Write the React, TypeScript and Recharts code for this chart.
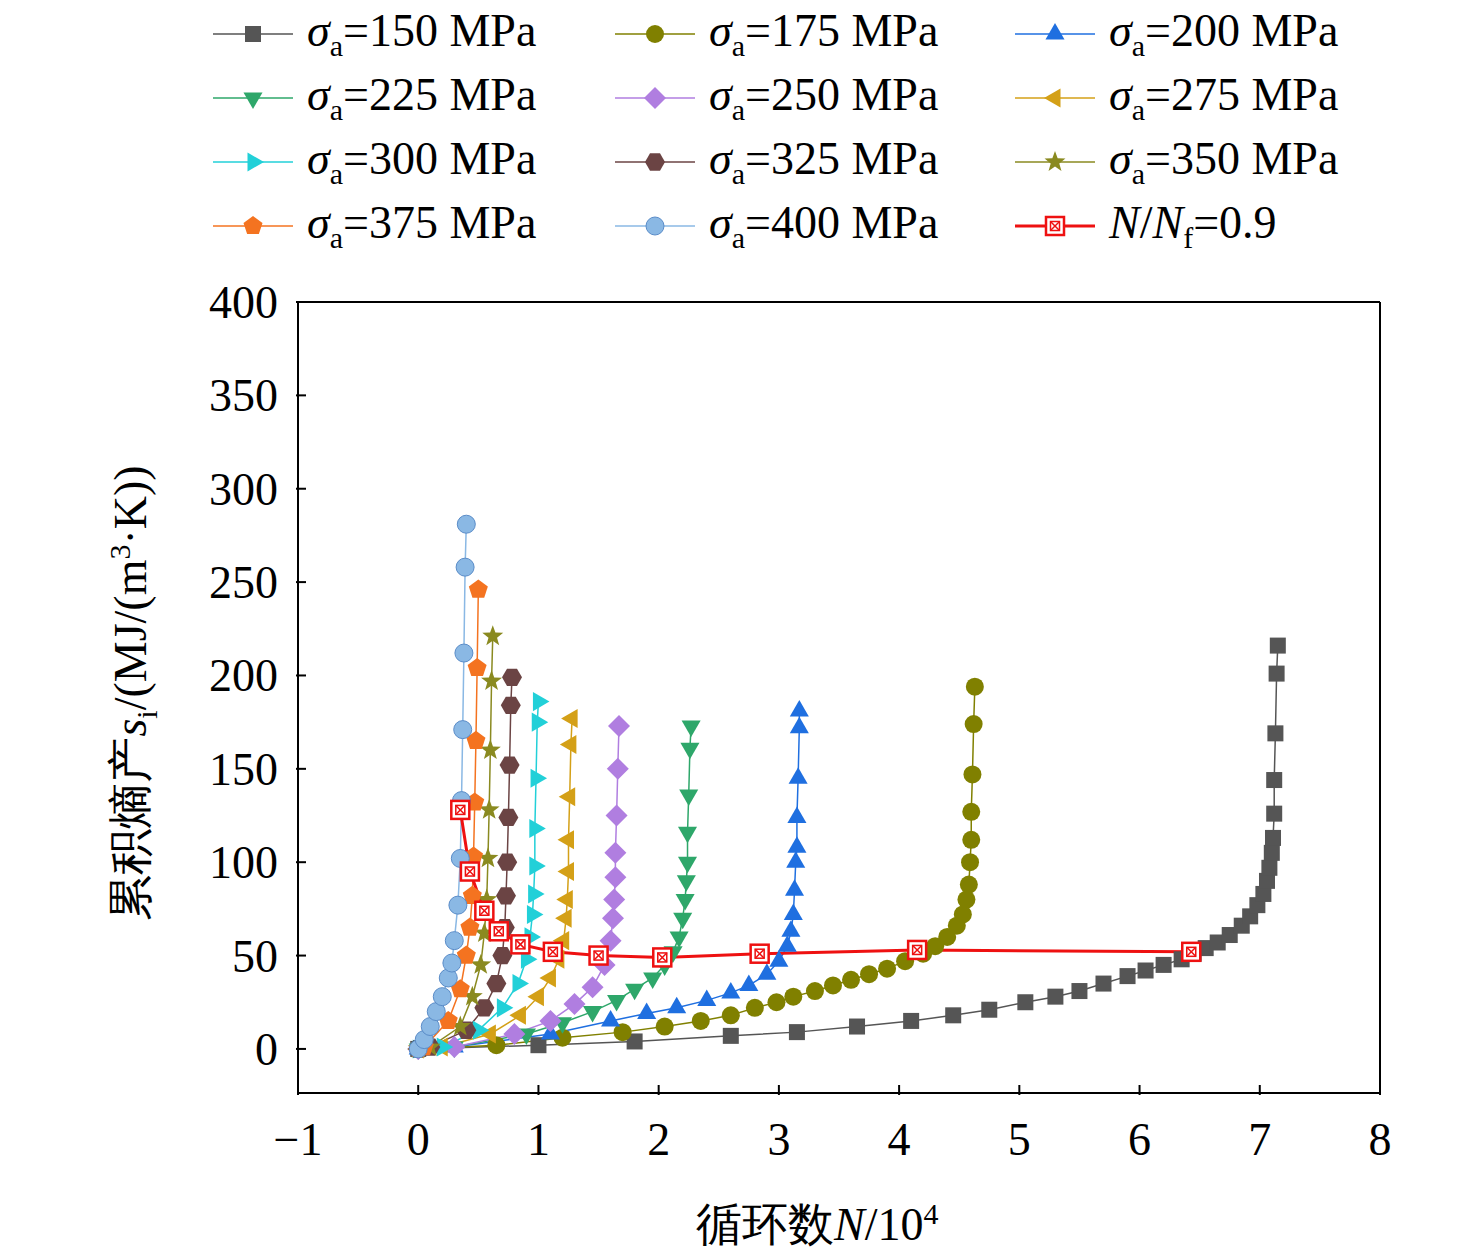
import React from 'react';
import { LineChart, Line, XAxis, YAxis, ReferenceLine } from 'recharts';

type P = { x: number; y: number };
const pts = (a: number[][]): P[] => a.map(([x, y]) => ({ x, y }));

const s150 = pts([[0,0],[1,2],[1.8,4],[2.6,7],[3.15,9],[3.65,12],[4.1,15],[4.45,18],[4.75,21],[5.05,25],[5.3,28],[5.5,31],[5.7,35],[5.9,39],[6.05,42],[6.2,45],[6.35,48],[6.45,51],[6.55,54],[6.65,57],[6.75,61],[6.85,66],[6.92,71],[6.98,77],[7.03,83],[7.06,90],[7.08,97],[7.1,105],[7.11,113],[7.12,126],[7.12,144],[7.13,169],[7.14,201],[7.15,216]]);
const s175 = pts([[0,0],[0.65,2],[1.2,6],[1.7,9],[2.05,12],[2.35,15],[2.6,18],[2.8,22],[2.98,25],[3.12,28],[3.3,31],[3.45,34],[3.6,37],[3.75,40],[3.9,43],[4.05,47],[4.2,51],[4.3,55],[4.4,60],[4.48,66],[4.53,72],[4.56,80],[4.58,88],[4.59,100],[4.6,112],[4.6,127],[4.61,147],[4.62,174],[4.63,194]]);
const s200 = pts([[0,0],[0.3,1],[1.1,8],[1.6,15],[1.9,19],[2.15,22],[2.4,26],[2.6,30],[2.75,34],[2.9,40],[3.0,47],[3.07,55],[3.1,63],[3.12,72],[3.13,85],[3.14,100],[3.15,108],[3.15,124],[3.16,145],[3.17,172],[3.17,181]]);
const s225 = pts([[0,0],[0.3,1],[0.9,8],[1.2,14],[1.45,20],[1.65,26],[1.8,32],[1.95,38],[2.05,45],[2.12,52],[2.17,60],[2.2,70],[2.22,80],[2.23,90],[2.24,100],[2.24,116],[2.25,136],[2.26,161],[2.27,173]]);
const s250 = pts([[0,0],[0.3,1],[0.8,8],[1.1,15],[1.3,24],[1.45,33],[1.55,45],[1.6,58],[1.62,70],[1.63,80],[1.64,92],[1.64,105],[1.65,125],[1.66,150],[1.67,173]]);
const s275 = pts([[0,0],[0.2,1],[0.6,8],[0.85,18],[1.0,28],[1.1,38],[1.17,48],[1.21,58],[1.23,70],[1.24,80],[1.25,95],[1.25,112],[1.26,135],[1.27,163],[1.28,177]]);
const s300 = pts([[0,0],[0.2,1],[0.5,10],[0.7,22],[0.83,35],[0.9,48],[0.93,60],[0.95,72],[0.96,83],[0.97,98],[0.97,118],[0.98,145],[0.99,175],[1.0,186]]);
const s325 = pts([[0,0],[0.1,1],[0.4,10],[0.55,22],[0.65,35],[0.7,50],[0.72,65],[0.73,82],[0.74,100],[0.75,124],[0.76,152],[0.77,184],[0.78,199]]);
const s350 = pts([[0,0],[0.1,1],[0.35,12],[0.45,28],[0.52,45],[0.55,62],[0.57,80],[0.58,102],[0.59,128],[0.6,160],[0.61,197],[0.62,221]]);
const s375 = pts([[0,0],[0.05,1],[0.25,15],[0.35,32],[0.4,50],[0.43,65],[0.45,82],[0.46,103],[0.47,132],[0.48,165],[0.49,204],[0.5,246]]);
const s400 = pts([[0,0],[0.05,5],[0.1,12],[0.15,20],[0.2,28],[0.25,38],[0.28,46],[0.3,58],[0.33,77],[0.35,102],[0.36,133],[0.37,171],[0.38,212],[0.39,258],[0.4,281]]);
const sNf = pts([[0.35,128],[0.43,95],[0.55,74],[0.67,63],[0.85,56],[1.12,52],[1.5,50],[2.03,49],[2.84,51],[4.15,53],[6.43,52]]);

const xTicks = [-1, 0, 1, 2, 3, 4, 5, 6, 7, 8];
const yTicks = [0, 50, 100, 150, 200, 250, 300, 350, 400];

const font = '"Times New Roman", "Liberation Serif", "DejaVu Serif", serif';

function Marker({ shape, x, y, c }: { shape: string; x: number; y: number; c: string }) {
  const r = 11;
  const poly = (n: number, rot: number, rr = r) =>
    Array.from({ length: n }, (_, i) => {
      const a = rot + (i * 2 * Math.PI) / n;
      return `${x + rr * Math.cos(a)},${y + rr * Math.sin(a)}`;
    }).join(' ');
  switch (shape) {
    case 'square': return <rect x={x - 8} y={y - 8} width={16} height={16} fill={c} />;
    case 'circle': return <circle cx={x} cy={y} r={9} fill={c} />;
    case 'sphere': return <circle cx={x} cy={y} r={9} fill={c} stroke="#5a8cc8" strokeWidth={1} />;
    case 'up': return <polygon points={poly(3, -Math.PI / 2)} fill={c} />;
    case 'down': return <polygon points={poly(3, Math.PI / 2)} fill={c} />;
    case 'left': return <polygon points={poly(3, Math.PI)} fill={c} />;
    case 'right': return <polygon points={poly(3, 0)} fill={c} />;
    case 'diamond': return <polygon points={poly(4, 0)} fill={c} />;
    case 'hex': return <polygon points={poly(6, 0, 10)} fill={c} />;
    case 'pent': return <polygon points={poly(5, -Math.PI / 2, 10)} fill={c} />;
    case 'star': {
      const p = Array.from({ length: 10 }, (_, i) => {
        const a = -Math.PI / 2 + (i * Math.PI) / 5;
        const rr = i % 2 ? 4.5 : 11;
        return `${x + rr * Math.cos(a)},${y + rr * Math.sin(a)}`;
      }).join(' ');
      return <polygon points={p} fill={c} />;
    }
    case 'boxx':
      return (
        <g>
          <rect x={x - 9} y={y - 9} width={18} height={18} fill="#fff" stroke={c} strokeWidth={2.5} />
          <rect x={x - 4.5} y={y - 4.5} width={9} height={9} fill="none" stroke={c} strokeWidth={1.5} />
          <line x1={x - 4.5} y1={y - 4.5} x2={x + 4.5} y2={y + 4.5} stroke={c} strokeWidth={1.5} />
          <line x1={x + 4.5} y1={y - 4.5} x2={x - 4.5} y2={y + 4.5} stroke={c} strokeWidth={1.5} />
        </g>
      );
  }
  return null;
}

const series = [
  { name: '150', data: s150, color: '#555555', shape: 'square' },
  { name: '175', data: s175, color: '#808000', shape: 'circle' },
  { name: '200', data: s200, color: '#1f6fe0', shape: 'up' },
  { name: '225', data: s225, color: '#2ea76a', shape: 'down' },
  { name: '250', data: s250, color: '#b07ee0', shape: 'diamond' },
  { name: '275', data: s275, color: '#d4a017', shape: 'left' },
  { name: '300', data: s300, color: '#22d0d8', shape: 'right' },
  { name: '325', data: s325, color: '#6b4444', shape: 'hex' },
  { name: '350', data: s350, color: '#8a8a20', shape: 'star' },
  { name: '375', data: s375, color: '#f47320', shape: 'pent' },
  { name: '400', data: s400, color: '#8ab8e4', shape: 'sphere' },
];

const XTick = (p: any) => (
  <g>
    <line x1={p.x} y1={p.y} x2={p.x} y2={p.y - 10} stroke="#000" strokeWidth={2} />
    <text x={p.x} y={p.y + 60} textAnchor="middle" fontSize={46} fontFamily={font}>
      {p.payload.value < 0 ? '\u22121' : p.payload.value}
    </text>
  </g>
);
const YTick = (p: any) => (
  <g>
    <line x1={p.x} y1={p.y} x2={p.x + 10} y2={p.y} stroke="#000" strokeWidth={2} />
    <text x={p.x - 18} y={p.y + 16} textAnchor="end" fontSize={46} fontFamily={font}>
      {p.payload.value}
    </text>
  </g>
);

function LegendItem({ s, left, top }: { s: any; left: number; top: number }) {
  return (
    <div style={{ position: 'absolute', left, top, display: 'flex', alignItems: 'center', fontFamily: font, fontSize: 46, whiteSpace: 'nowrap' }}>
      <svg width={84} height={30}>
        <line x1={2} y1={15} x2={82} y2={15} stroke={s.color} strokeWidth={s.shape === 'boxx' ? 3 : 1.5} />
        <Marker shape={s.shape} x={42} y={15} c={s.color} />
      </svg>
      <span style={{ marginLeft: 12 }}>
        {s.shape === 'boxx' ? (
          <><i>N</i>/<i>N</i><sub style={{ fontSize: 30 }}>f</sub>=0.9</>
        ) : (
          <><i>σ</i><sub style={{ fontSize: 30 }}>a</sub>={s.name} MPa</>
        )}
      </span>
    </div>
  );
}

export default function App() {
  const all = [...series, { name: 'Nf', data: sNf, color: '#ee1111', shape: 'boxx' }];
  return (
    <div style={{ position: 'relative', width: 1460, height: 1243, background: '#fff' }}>
      {all.map((s, i) => (
        <LegendItem key={s.name} s={s} left={[203, 605, 1005][i % 3]} top={-4 + Math.floor(i / 3) * 64} />
      ))}
      <LineChart width={1460} height={1243} margin={{ top: 294, left: 0, right: 88, bottom: 98 }}>
        <XAxis type="number" dataKey="x" domain={[-1, 8]} ticks={xTicks} tick={<XTick />} tickSize={0} height={60}
          axisLine={{ stroke: '#000', strokeWidth: 2 }} tickLine={false} allowDuplicatedCategory={false} />
        <YAxis type="number" dataKey="y" domain={[-23.6, 400]} ticks={yTicks} tick={<YTick />} tickSize={0} width={290}
          axisLine={{ stroke: '#000', strokeWidth: 2 }} tickLine={false} />
        <ReferenceLine x={8} stroke="#000" strokeWidth={2} />
        <ReferenceLine y={400} stroke="#000" strokeWidth={2} />
        {series.map((s) => (
          <Line key={s.name} data={s.data} dataKey="y" type="linear" stroke={s.color} strokeWidth={1.5}
            isAnimationActive={false}
            dot={(p: any) => <Marker key={p.index} shape={s.shape} x={p.cx} y={p.cy} c={s.color} />} />
        ))}
        <Line data={sNf} dataKey="y" type="linear" stroke="#ee1111" strokeWidth={3} isAnimationActive={false}
          dot={(p: any) => <Marker key={p.index} shape="boxx" x={p.cx} y={p.cy} c="#ee1111" />} />
      </LineChart>
      <div style={{ position: 'absolute', left: 688, top: 1186, fontFamily: font, fontSize: 46, whiteSpace: 'nowrap' }}>
        循环数<i>N</i>/10<sup style={{ fontSize: 30 }}>4</sup>
      </div>
      <div style={{ position: 'absolute', left: 124, top: 685, transform: 'translate(-50%,-50%) rotate(-90deg)', fontFamily: font, fontSize: 46, whiteSpace: 'nowrap' }}>
        累积熵产<i>s</i><sub style={{ fontSize: 30 }}>i</sub>/(MJ/(m<sup style={{ fontSize: 30 }}>3</sup>·K))
      </div>
    </div>
  );
}
